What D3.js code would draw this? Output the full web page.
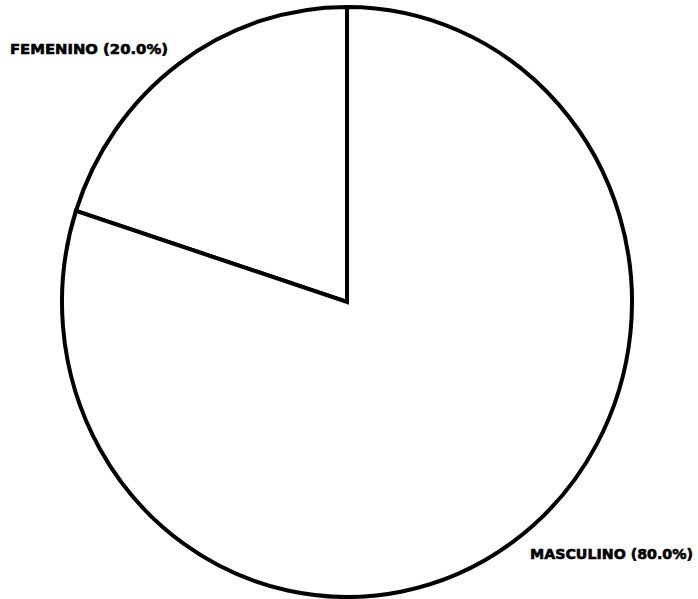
<!DOCTYPE html>
<html>
<head>
<meta charset="utf-8">
<script src="https://cdn.jsdelivr.net/npm/d3@7"></script>
<style>
  body { margin: 0; background: #fff; }
</style>
</head>
<body>
<div id="chart"></div>
<script>
// Data
let categories = ["FEMENINO", "MASCULINO"];
let values = [20.0, 80.0];

let width = 698, height = 599;
let cx = 347, cy = 302, rx = 285, ry = 295;

let svg = d3.select("#chart").append("svg")
            .attr("width", width)
            .attr("height", height);

let data = categories.map((c, i) => ({name: c, value: values[i]}));

// FEMENINO starts 72 degrees left of the top, MASCULINO fills the rest clockwise
let pie = d3.pie().sort(null).value(d => d.value)
            .startAngle(-2 * Math.PI * values[0] / 100)
            .endAngle(2 * Math.PI - 2 * Math.PI * values[0] / 100);

let arc = d3.arc().innerRadius(0).outerRadius(rx);

let g = svg.append("g")
           .attr("transform", "translate(" + cx + "," + cy + ") scale(1," + (ry / rx) + ")");

g.selectAll("path").data(pie(data)).enter().append("path")
    .attr("d", arc)
    .attr("fill", "white")
    .attr("stroke", "black")
    .attr("stroke-width", 4)
    .attr("stroke-linejoin", "miter")
    .attr("vector-effect", "non-scaling-stroke");

// Labels
let labelPos = {FEMENINO: {x: 10, y: 54, w: 158}, MASCULINO: {x: 530, y: 559, w: 163}};

svg.selectAll("text.lbl").data(data).enter().append("text")
    .attr("class", "lbl")
    .attr("x", d => labelPos[d.name].x)
    .attr("y", d => labelPos[d.name].y)
    .attr("textLength", d => labelPos[d.name].w)
    .attr("lengthAdjust", "spacingAndGlyphs")
    .style("font-family", "'DejaVu Sans', sans-serif")
    .style("font-weight", "bold")
    .style("font-size", "14px")
    .style("fill", "black")
    .style("stroke", "black")
    .style("stroke-width", 0.6)
    .text(d => d.name + "  (" + d.value.toFixed(1) + "%)");
</script>
</body>
</html>
